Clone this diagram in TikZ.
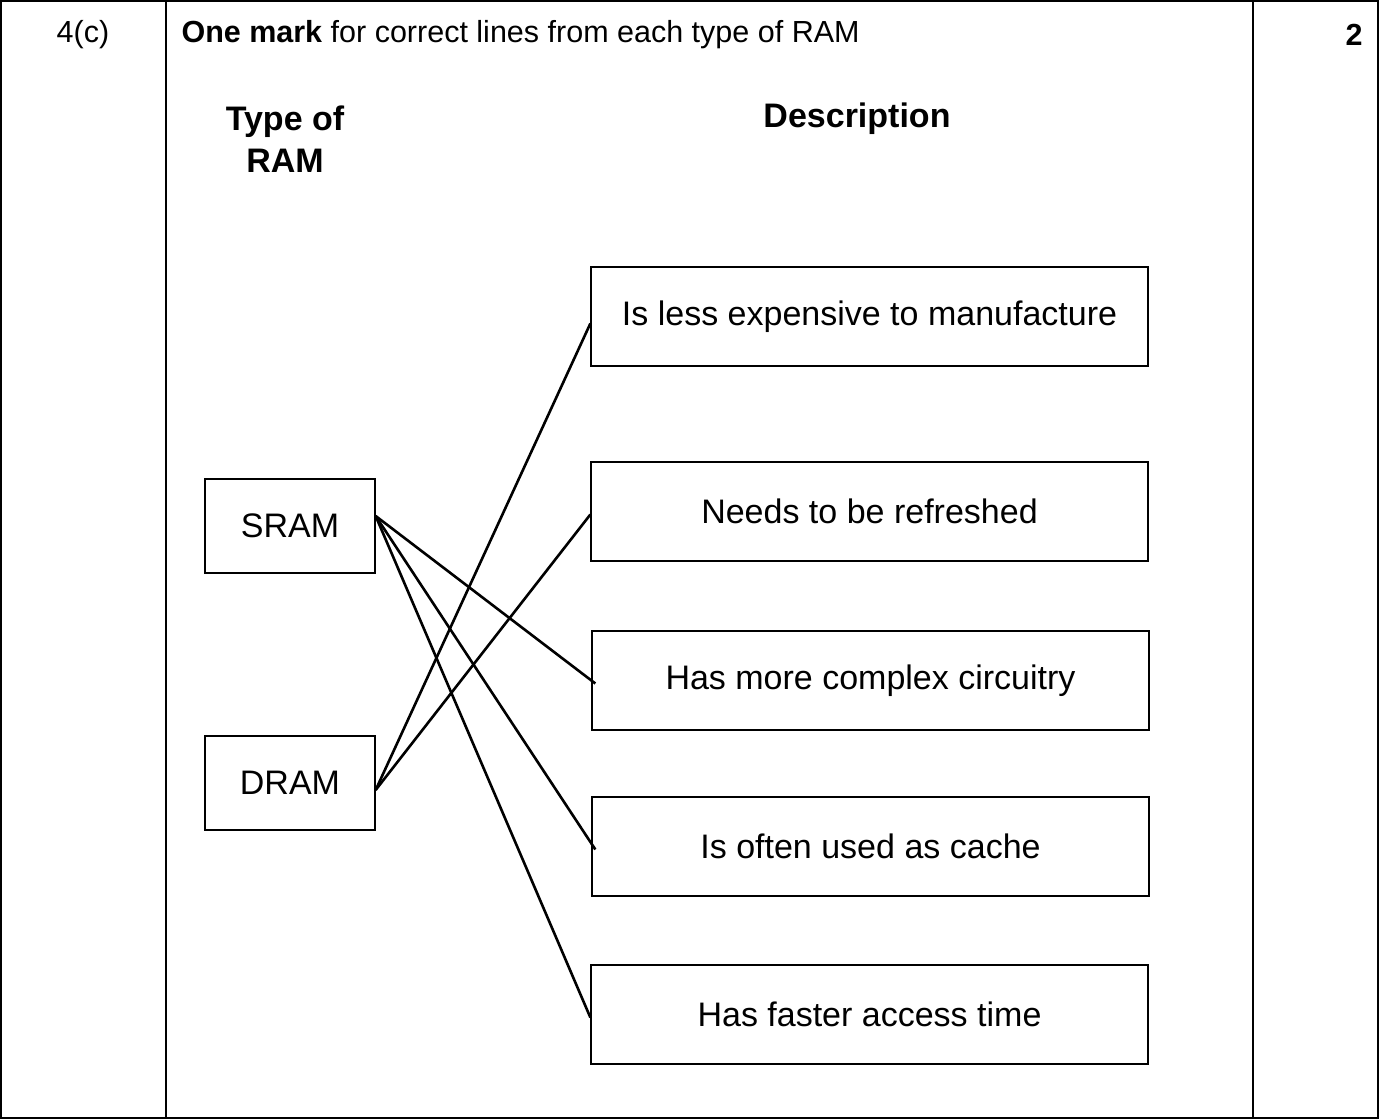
\documentclass[tikz,border=0pt]{standalone}
\usepackage{fontspec}
\setmainfont{Liberation Sans}
\begin{document}
\begin{tikzpicture}[x={(1pt,0)},y={(0,-1pt)},
  box/.style={draw,line width=1.3pt,inner sep=0pt,font=\fontsize{34}{40}\selectfont},
  conn/.style={line width=2.6pt},
  txt/.style={font=\fontsize{30.5}{36}\selectfont}]
\useasboundingbox (0,0) rectangle (1379,1119);
\draw[line width=1.5pt] (1,1) rectangle (1378,1118);
\draw[line width=1.5pt] (166,1) -- (166,1118) (1253,1) -- (1253,1118);
\node[txt] (q) at (83,35) {4(c)};
\node[txt,anchor=west] (m) at (178,35) {\textbf{One mark} for correct lines from each type of RAM};
\node[txt,font=\fontsize{30.5}{36}\selectfont\bfseries] (mk) at (1354,35) {2};
\node[font=\fontsize{34}{42}\selectfont\bfseries,align=center] (h1) at (285,139) {Type of\\RAM};
\node[font=\fontsize{34}{40}\selectfont\bfseries] (h2) at (857,119) {Description};
\node[box,minimum width=170pt,minimum height=94pt] (s) at (290,526) {SRAM};
\node[box,minimum width=170pt,minimum height=94pt] (d) at (290,783) {DRAM};
\node[box,minimum width=557pt,minimum height=99pt] (d1) at (869.5,316.5) {Is less expensive to manufacture};
\node[box,minimum width=557pt,minimum height=99pt] (d2) at (869.5,511.5) {Needs to be refreshed};
\node[box,minimum width=557pt,minimum height=99pt] (d3) at (870.5,680.5) {Has more complex circuitry};
\node[box,minimum width=557pt,minimum height=99pt] (d4) at (870.5,846.5) {Is often used as cache};
\node[box,minimum width=557pt,minimum height=99pt] (d5) at (869.5,1014.5) {Has faster access time};
\coordinate (sr) at ([yshift=10pt]s.east);
\coordinate (dr) at ([yshift=-7pt]d.east);
\draw[conn] (sr) -- ([shift={(4pt,-3pt)}]d3.west);
\draw[conn] (sr) -- ([shift={(4pt,-3pt)}]d4.west);
\draw[conn] (sr) -- ([yshift=-3pt]d5.west);
\draw[conn] (dr) -- ([yshift=-7pt]d1.west);
\draw[conn] (dr) -- ([yshift=-3pt]d2.west);
\end{tikzpicture}
\end{document}
